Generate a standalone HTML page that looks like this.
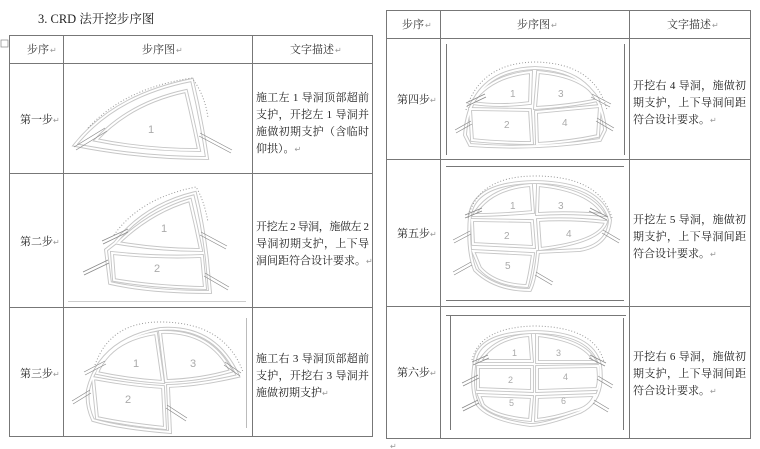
<!DOCTYPE html>
<html><head><meta charset="utf-8"><style>
html,body{margin:0;padding:0;background:#fff;width:760px;height:449px;overflow:hidden}
svg{display:block}
text{font-family:"Liberation Serif","Noto Serif CJK SC",serif;fill:#222}
.t{font-size:11px}
.h{font-size:11px;fill:#333}
.n{font-family:"Liberation Sans",sans-serif;font-size:11px;fill:#aaa}
.g{font-size:8px;fill:#999;font-family:"DejaVu Sans",sans-serif}
.o{fill:none;stroke:#c6c6c6;stroke-width:3.8}
.i{fill:none;stroke:#fff;stroke-width:1.9}
.d{fill:none;stroke:#999;stroke-width:1;stroke-dasharray:1 2}
.b{stroke:#888;stroke-width:.7}
.tb{stroke:#777;stroke-width:1;fill:none}
.f{stroke:#777;stroke-width:1}
</style></head><body>
<svg width="760" height="449" viewBox="0 0 760 449" xmlns="http://www.w3.org/2000/svg">
<defs>
<g id="s1"><path d="M75,145 Q115,95 192,80 Q201,118 207,158 Q140,158 75,145 Z"/><path d="M96,140 Q130,103 186,91 Q193,120 199,150 Q145,150 96,140 Z"/></g>
<g id="s2"><path d="M115,243 Q145,205 195,193 Q203,225 207,260 L210,292 Q150,292 110,283 L106,250 Z"/><path d="M118,243 Q150,212 190,200 Q196,225 201,250 Q160,250 118,243 Z"/><path d="M112,253 Q160,258 202,256 L205,288 Q155,287 114,280 Z"/></g>
<g id="s3"><path d="M88,390 Q100,340 160,329 Q215,325 238,376 Q200,385 168,386 L170,432 Q120,428 93,420 Q86,405 88,390 Z"/><path d="M97,373 Q110,340 156,333 L163,382 Q130,380 97,373 Z"/><path d="M160,332 Q210,330 231,371 Q200,380 166,381 Z"/><path d="M93,378 Q130,385 163,387 L165,428 Q125,424 97,418 Z"/></g>
<g id="s4"><path d="M465,135 Q470,70 535,68 Q600,70 605,130 L600,140 Q535,150 470,145 Z"/><path d="M472,103 Q490,76 531,72 L530,103 Q500,107 472,103 Z"/><path d="M538,72 Q585,76 598,100 Q570,106 535,108 Z"/><path d="M470,109 L530,110 L532,143 Q500,143 472,140 Z"/><path d="M536,112 L600,106 L598,136 Q570,142 537,144 Z"/></g>
<g id="s5"><path d="M470,215 Q475,183 535,182 Q600,183 610,220 Q608,245 580,250 L538,252 Q535,280 530,290 Q495,290 475,270 Q467,250 470,215 Z"/><path d="M474,215 Q490,188 531,185 L533,212 Q500,215 474,215 Z"/><path d="M538,185 Q590,190 604,215 Q570,212 537,214 Z"/><path d="M472,220 L532,221 L534,247 L473,244 Z"/><path d="M538,220 Q570,218 606,222 Q600,242 540,249 Z"/><path d="M473,251 L533,254 Q530,275 527,286 Q495,285 480,268 Z"/></g>
<g id="s6"><path d="M475,360 Q480,333 535,332 Q592,333 600,365 Q605,400 580,412 Q545,425 530,425 Q490,420 478,405 Q470,390 475,360 Z"/><path d="M480,361 Q495,337 530,335 L532,361 Z"/><path d="M537,335 Q585,340 595,362 L537,362 Z"/><path d="M478,367 L532,367 L532,391 L478,389 Z"/><path d="M537,367 L598,366 Q600,382 597,389 L537,391 Z"/><path d="M479,395 L532,397 L530,420 Q495,417 483,405 Z"/><path d="M537,397 L595,395 Q590,408 575,411 Q555,418 536,420 Z"/></g>
</defs>

<text x="38" y="23" style="font-size:12.5px">3.  CRD 法开挖步序图</text>
<rect x="1" y="40" width="7" height="7" fill="none" stroke="#888" stroke-width=".7"/>

<rect class="tb" x="9.5" y="35.5" width="363" height="401"/>
<line class="tb" x1="9" y1="63.5" x2="373" y2="63.5"/>
<line class="tb" x1="9" y1="173.5" x2="373" y2="173.5"/>
<line class="tb" x1="9" y1="307.5" x2="373" y2="307.5"/>
<line class="tb" x1="63.5" y1="35" x2="63.5" y2="437"/>
<line class="tb" x1="252.5" y1="35" x2="252.5" y2="437"/>
<text class="h" x="27" y="53">步序</text><text class="g" x="50" y="53">↵</text>
<text class="h" x="142" y="53">步序图</text><text class="g" x="176" y="53">↵</text>
<text class="h" x="290" y="53">文字描述</text><text class="g" x="335" y="53">↵</text>
<text class="t" x="20" y="123">第一步</text><text class="g" x="53" y="123">↵</text>
<text class="t" x="20" y="245">第二步</text><text class="g" x="53" y="245">↵</text>
<text class="t" x="20" y="377">第三步</text><text class="g" x="53" y="377">↵</text>

<text class="t" x="256" y="101" textLength="113">施工左 1 导洞顶部超前</text>
<text class="t" x="256" y="118" textLength="113">支护，开挖左 1 导洞并</text>
<text class="t" x="256" y="135" textLength="113">施做初期支护（含临时</text>
<text class="t" x="256" y="152">仰拱）。<tspan class="g">↵</tspan></text>

<text class="t" x="256" y="230" textLength="113">开挖左 2 导洞，施做左 2</text>
<text class="t" x="256" y="247" textLength="113">导洞初期支护，上下导</text>
<text class="t" x="256" y="264">洞间距符合设计要求。<tspan class="g">↵</tspan></text>

<text class="t" x="256" y="362" textLength="113">施工右 3 导洞顶部超前</text>
<text class="t" x="256" y="379" textLength="113">支护，开挖右 3 导洞并</text>
<text class="t" x="256" y="396">施做初期支护<tspan class="g">↵</tspan></text>

<rect class="tb" x="386.5" y="10.5" width="364" height="428"/>
<line class="tb" x1="386" y1="38.5" x2="751" y2="38.5"/>
<line class="tb" x1="386" y1="159.5" x2="751" y2="159.5"/>
<line class="tb" x1="386" y1="306.5" x2="751" y2="306.5"/>
<line class="tb" x1="440.5" y1="10" x2="440.5" y2="439"/>
<line class="tb" x1="629.5" y1="10" x2="629.5" y2="439"/>
<text class="h" x="402" y="28">步序</text><text class="g" x="425" y="28">↵</text>
<text class="h" x="517" y="28">步序图</text><text class="g" x="551" y="28">↵</text>
<text class="h" x="667" y="28">文字描述</text><text class="g" x="712" y="28">↵</text>
<text class="t" x="397" y="103">第四步</text><text class="g" x="430" y="103">↵</text>
<text class="t" x="397" y="237">第五步</text><text class="g" x="430" y="237">↵</text>
<text class="t" x="397" y="376">第六步</text><text class="g" x="430" y="376">↵</text>

<text class="t" x="633" y="89" textLength="113">开挖右 4 导洞，施做初</text>
<text class="t" x="633" y="106" textLength="113">期支护，上下导洞间距</text>
<text class="t" x="633" y="123">符合设计要求。<tspan class="g">↵</tspan></text>
<text class="t" x="633" y="223" textLength="113">开挖左 5 导洞，施做初</text>
<text class="t" x="633" y="240" textLength="113">期支护，上下导洞间距</text>
<text class="t" x="633" y="257">符合设计要求。<tspan class="g">↵</tspan></text>
<text class="t" x="633" y="360" textLength="113">开挖右 6 导洞，施做初</text>
<text class="t" x="633" y="377" textLength="113">期支护，上下导洞间距</text>
<text class="t" x="633" y="394">符合设计要求。<tspan class="g">↵</tspan></text>
<text class="g" x="390" y="449">↵</text>

<line x1="246.5" y1="318" x2="246.5" y2="428" stroke="#bbb"/>
<line x1="68" y1="301.5" x2="246" y2="301.5" stroke="#ccc"/>
<line class="f" x1="446.5" y1="44" x2="446.5" y2="155"/>
<line class="f" x1="624.5" y1="44" x2="624.5" y2="155"/>
<line class="f" x1="446" y1="166.5" x2="624" y2="166.5"/>
<line class="f" x1="446" y1="300.5" x2="624" y2="300.5"/>
<line class="f" x1="446" y1="315.5" x2="626" y2="315.5"/>
<line class="f" x1="450.5" y1="315" x2="450.5" y2="430"/>
<line class="f" x1="623.5" y1="318" x2="623.5" y2="430"/>

<g class="o"><use href="#s1"/><use href="#s2"/><use href="#s3"/><use href="#s4"/><use href="#s5"/><use href="#s6"/></g>
<g class="i"><use href="#s1"/><use href="#s2"/><use href="#s3"/><use href="#s4"/><use href="#s5"/><use href="#s6"/></g>

<path class="d" d="M88,128 Q125,88 192,78 Q205,95 208,118"/>
<path class="d" d="M114,235 Q140,198 196,187 Q204,200 208,222"/>
<path class="d" d="M95,365 Q110,322 160,322 Q225,322 243,372"/>
<path class="d" d="M466,110 Q480,63 535,62 Q595,63 607,110"/>
<path class="d" d="M468,218 Q478,176 535,176 Q600,176 612,218"/>
<path class="d" d="M472,360 Q480,327 535,326 Q595,327 604,362"/>

<g class="b">
<line x1="74" y1="147" x2="105" y2="128"/><line x1="76" y1="150" x2="107" y2="131"/>
<line x1="200" y1="133" x2="232" y2="150"/><line x1="199" y1="136" x2="231" y2="153"/>
<line x1="102" y1="241" x2="128" y2="229"/><line x1="103" y1="244" x2="128" y2="232"/>
<line x1="83" y1="272" x2="108" y2="260"/><line x1="84" y1="275" x2="109" y2="263"/>
<line x1="201" y1="232" x2="227" y2="246"/><line x1="200" y1="235" x2="226" y2="249"/>
<line x1="205" y1="273" x2="229" y2="287"/><line x1="204" y1="276" x2="228" y2="290"/>
<line x1="84" y1="372" x2="105" y2="361"/><line x1="85" y1="375" x2="106" y2="364"/>
<line x1="72" y1="401" x2="90" y2="390"/><line x1="73" y1="404" x2="91" y2="393"/>
<line x1="225" y1="362" x2="241" y2="373"/><line x1="224" y1="365" x2="240" y2="376"/>
<line x1="167" y1="405" x2="187" y2="418"/><line x1="166" y1="408" x2="186" y2="421"/>
<line x1="466" y1="103" x2="485" y2="94"/><line x1="467" y1="106" x2="486" y2="97"/>
<line x1="455" y1="130" x2="471" y2="121"/><line x1="456" y1="133" x2="472" y2="124"/>
<line x1="592" y1="94" x2="611" y2="104"/><line x1="591" y1="97" x2="610" y2="107"/>
<line x1="597" y1="118" x2="614" y2="128"/><line x1="596" y1="121" x2="613" y2="131"/>
<line x1="465" y1="215" x2="482" y2="208"/><line x1="465" y1="218" x2="482" y2="211"/>
<line x1="453" y1="240" x2="470" y2="231"/><line x1="454" y1="243" x2="471" y2="234"/>
<line x1="453" y1="272" x2="471" y2="262"/><line x1="454" y1="275" x2="472" y2="265"/>
<line x1="590" y1="208" x2="608" y2="217"/><line x1="589" y1="211" x2="607" y2="220"/>
<line x1="603" y1="230" x2="620" y2="240"/><line x1="602" y1="233" x2="619" y2="243"/>
<line x1="536" y1="272" x2="553" y2="282"/><line x1="535" y1="275" x2="552" y2="285"/>
<line x1="472" y1="362" x2="488" y2="355"/><line x1="473" y1="365" x2="489" y2="358"/>
<line x1="462" y1="383" x2="478" y2="375"/><line x1="463" y1="386" x2="479" y2="378"/>
<line x1="462" y1="408" x2="478" y2="400"/><line x1="463" y1="411" x2="479" y2="403"/>
<line x1="590" y1="355" x2="606" y2="363"/><line x1="589" y1="358" x2="605" y2="366"/>
<line x1="598" y1="376" x2="613" y2="385"/><line x1="597" y1="379" x2="612" y2="388"/>
<line x1="594" y1="400" x2="609" y2="409"/><line x1="593" y1="403" x2="608" y2="412"/>
</g>

<text class="n" x="148" y="133">1</text>
<text class="n" x="161" y="232">1</text><text class="n" x="154" y="272">2</text>
<text class="n" x="133" y="367">1</text><text class="n" x="190" y="367">3</text><text class="n" x="125" y="403">2</text>
<text class="n" x="510" y="97" style="font-size:10px">1</text><text class="n" x="558" y="97" style="font-size:10px">3</text>
<text class="n" x="504" y="128" style="font-size:10px">2</text><text class="n" x="562" y="126" style="font-size:10px">4</text>
<text class="n" x="510" y="209" style="font-size:10px">1</text><text class="n" x="558" y="209" style="font-size:10px">3</text>
<text class="n" x="504" y="239" style="font-size:10px">2</text><text class="n" x="566" y="237" style="font-size:10px">4</text>
<text class="n" x="505" y="269" style="font-size:10px">5</text>
<text class="n" x="512" y="356" style="font-size:9px">1</text><text class="n" x="556" y="356" style="font-size:9px">3</text>
<text class="n" x="508" y="383" style="font-size:9px">2</text><text class="n" x="563" y="380" style="font-size:9px">4</text>
<text class="n" x="509" y="406" style="font-size:9px">5</text><text class="n" x="561" y="404" style="font-size:9px">6</text>
</svg>
</body></html>
